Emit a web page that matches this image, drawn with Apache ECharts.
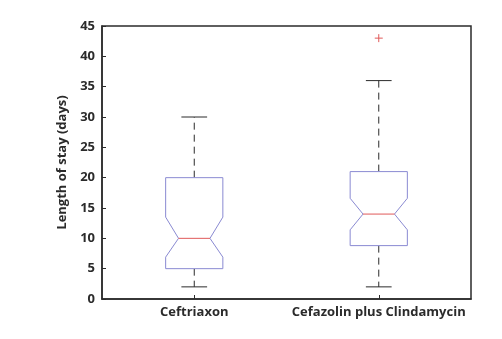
<!DOCTYPE html>
<html>
<head>
<meta charset="utf-8">
<script src="https://cdn.jsdelivr.net/npm/echarts@6/dist/echarts.min.js"></script>
<style>
  html, body { margin: 0; padding: 0; background: #fff; }
  #chart { width: 502px; height: 339px; }
</style>
</head>
<body>
<div id="chart"></div>
<script>
var categories = ['Ceftriaxon', 'Cefazolin plus Clindamycin']
var whiskerLow = [2, 2]
var q1 = [5, 8.8]
var median = [10, 14]
var q3 = [20, 21]
var whiskerHigh = [30, 36]
var notchLow = [6.9, 11.4]
var notchHigh = [13.5, 16.6]
// outliers: [category index, value]
var outliers = [[1, 43]]

var boxColor = '#8a8ad2'
var medianColor = '#e05a5a'
var inkColor = '#2b2b2b'

var boxData = categories.map(function (c, i) {
  return [i, whiskerLow[i], q1[i], median[i], q3[i], whiskerHigh[i], notchLow[i], notchHigh[i]]
})

function renderBox(params, api) {
  var xi = api.value(0)
  var x0 = api.coord([xi, api.value(3)])[0]
  var band = api.size([1, 0])[0]
  var hw = band * 0.155 // half box width
  var nw = hw * 0.55 // half notch width
  var cw = hw * 0.45 // half cap width
  var y = function (v) { return api.coord([xi, v])[1] }
  var yLo = y(api.value(1))
  var yQ1 = y(api.value(2))
  var yMed = y(api.value(3))
  var yQ3 = y(api.value(4))
  var yHi = y(api.value(5))
  var yNL = y(api.value(6))
  var yNH = y(api.value(7))
  var dash = { stroke: inkColor, lineWidth: 1, lineDash: [7, 5] }
  var solid = { stroke: inkColor, lineWidth: 1 }
  return {
    type: 'group',
    children: [
      { type: 'line', shape: { x1: x0, y1: yQ3, x2: x0, y2: yHi }, style: dash },
      { type: 'line', shape: { x1: x0, y1: yQ1, x2: x0, y2: yLo }, style: dash },
      { type: 'line', shape: { x1: x0 - cw, y1: yHi, x2: x0 + cw, y2: yHi }, style: solid },
      { type: 'line', shape: { x1: x0 - cw, y1: yLo, x2: x0 + cw, y2: yLo }, style: solid },
      {
        type: 'polygon',
        shape: {
          points: [
            [x0 - hw, yQ3], [x0 + hw, yQ3], [x0 + hw, yNH], [x0 + nw, yMed],
            [x0 + hw, yNL], [x0 + hw, yQ1], [x0 - hw, yQ1], [x0 - hw, yNL],
            [x0 - nw, yMed], [x0 - hw, yNH]
          ]
        },
        style: { fill: '#fff', stroke: boxColor, lineWidth: 1 }
      },
      { type: 'line', shape: { x1: x0 - nw, y1: yMed, x2: x0 + nw, y2: yMed }, style: { stroke: medianColor, lineWidth: 1 } }
    ]
  }
}

function renderOutlier(params, api) {
  var p = api.coord([api.value(0), api.value(1)])
  var s = 4
  var st = { stroke: medianColor, lineWidth: 1 }
  return {
    type: 'group',
    children: [
      { type: 'line', shape: { x1: p[0] - s, y1: p[1], x2: p[0] + s, y2: p[1] }, style: st },
      { type: 'line', shape: { x1: p[0], y1: p[1] - s, x2: p[0], y2: p[1] + s }, style: st }
    ]
  }
}

var chart = echarts.init(document.getElementById('chart'))
chart.setOption({
  animation: false,
  backgroundColor: '#fff',
  grid: {
    left: 102,
    right: 31,
    top: 26,
    bottom: 40,
    show: true,
    borderColor: inkColor,
    borderWidth: 1.5
  },
  xAxis: {
    type: 'category',
    data: categories,
    boundaryGap: true,
    axisLine: { show: true, lineStyle: { color: inkColor, width: 1.5 } },
    axisTick: { show: true, inside: true, alignWithLabel: true, length: 4, lineStyle: { color: inkColor } },
    axisLabel: {
      interval: 0,
      color: inkColor,
      fontFamily: 'Open Sans',
      fontWeight: 'bold',
      fontSize: 13,
      margin: 7
    },
    splitLine: { show: false }
  },
  yAxis: {
    type: 'value',
    min: 0,
    max: 45,
    interval: 5,
    name: 'Length of stay (days)',
    nameLocation: 'middle',
    nameGap: 28,
    nameTextStyle: {
      color: inkColor,
      fontFamily: 'Open Sans',
      fontWeight: 'bold',
      fontSize: 13
    },
    axisLine: { show: true, lineStyle: { color: inkColor, width: 1.5 } },
    axisTick: { show: true, inside: true, length: 4, lineStyle: { color: inkColor } },
    axisLabel: {
      color: inkColor,
      fontFamily: 'Open Sans',
      fontWeight: 'bold',
      fontSize: 13,
      margin: 7
    },
    splitLine: { show: false }
  },
  series: [
    {
      type: 'custom',
      renderItem: renderBox,
      encode: { x: 0, y: [1, 2, 3, 4, 5] },
      data: boxData,
      z: 2
    },
    {
      type: 'custom',
      renderItem: renderOutlier,
      encode: { x: 0, y: 1 },
      data: outliers,
      z: 3
    }
  ]
})
</script>
</body>
</html>
